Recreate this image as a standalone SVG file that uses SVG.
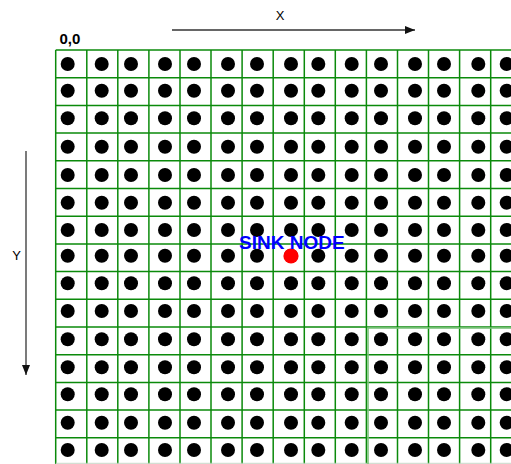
<svg xmlns="http://www.w3.org/2000/svg" xmlns:xlink="http://www.w3.org/1999/xlink" width="511" height="464" viewBox="0 0 511 464">
<style>
.grid{fill:none;stroke:#0b8a0b;stroke-width:1.5}
.block{fill:none;stroke:#7cc47c;stroke-width:1.6}
.dot{fill:#000}
.axis{stroke:#333;stroke-width:1.3;fill:none}
.lbl{font-family:"Liberation Sans",Arial,sans-serif;font-size:13px;fill:#000}
</style>
<defs>
<marker id="ah" markerWidth="10" markerHeight="8" refX="10" refY="4" orient="auto" markerUnits="userSpaceOnUse">
<path d="M0,0 L10,4 L0,8 Z" fill="#111"/>
</marker>
<g id="row">
<circle class="dot" cx="67.7" cy="0" r="7"/><circle class="dot" cx="101.7" cy="0" r="7"/><circle class="dot" cx="131" cy="0" r="7"/><circle class="dot" cx="165" cy="0" r="7"/><circle class="dot" cx="194" cy="0" r="7"/><circle class="dot" cx="228" cy="0" r="7"/><circle class="dot" cx="257" cy="0" r="7"/><circle class="dot" cx="291" cy="0" r="7"/><circle class="dot" cx="318.3" cy="0" r="7"/><circle class="dot" cx="351.7" cy="0" r="7"/><circle class="dot" cx="381" cy="0" r="7"/><circle class="dot" cx="415" cy="0" r="7"/><circle class="dot" cx="444" cy="0" r="7"/><circle class="dot" cx="478.3" cy="0" r="7"/><circle class="dot" cx="506.7" cy="0" r="7"/>
</g>
</defs>
<rect width="511" height="464" fill="#fff"/>
<g id="grid">
<path class="grid" d="M55.7,50V464 M86.8,50V464 M117.8,50V464 M148.9,50V464 M180,50V464 M211,50V464 M242.1,50V464 M273.2,50V464 M304.3,50V464 M335.3,50V464 M366.4,50V464 M397.5,50V464 M428.5,50V464 M459.6,50V464 M490.7,50V464 M55.7,50H511 M55.7,77.7H511 M55.7,105.4H511 M55.7,133.1H511 M55.7,160.8H511 M55.7,188.5H511 M55.7,216.2H511 M55.7,243.9H511 M55.7,271.6H511 M55.7,299.3H511 M55.7,327H511 M55.7,354.7H511 M55.7,382.4H511 M55.7,410.1H511 M55.7,437.8H511"/>
<path d="M55.7,463.3H511" stroke="#c8d8c8" stroke-width="1" fill="none"/>
<rect class="block" x="368" y="328" width="150" height="140"/>
</g>
<g id="nodes">
<use xlink:href="#row" y="64"/>
<use xlink:href="#row" y="90.7"/>
<use xlink:href="#row" y="118.3"/>
<use xlink:href="#row" y="146.7"/>
<use xlink:href="#row" y="175"/>
<use xlink:href="#row" y="202.7"/>
<use xlink:href="#row" y="230"/>
<use xlink:href="#row" y="255.7"/>
<use xlink:href="#row" y="283.3"/>
<use xlink:href="#row" y="311"/>
<use xlink:href="#row" y="339.3"/>
<use xlink:href="#row" y="367.3"/>
<use xlink:href="#row" y="394.3"/>
<use xlink:href="#row" y="422.7"/>
<use xlink:href="#row" y="450"/>
</g>
<g id="sink-node">
<circle cx="291" cy="256" r="7.6" fill="#f00"/>
<text x="239" y="248.5" font-family="'Liberation Sans',Arial,sans-serif" font-size="19" font-weight="bold" fill="#0000ff">SINK NODE</text>
</g>
<g id="axes">
<line class="axis" x1="172" y1="30" x2="415" y2="30" marker-end="url(#ah)"/>
<line class="axis" x1="26" y1="151" x2="26" y2="375" marker-end="url(#ah)"/>
<text class="lbl" x="280" y="19.5" text-anchor="middle">X</text>
<text class="lbl" x="16.5" y="259.5" text-anchor="middle">Y</text>
<text x="59.5" y="43.5" font-family="'Liberation Sans',Arial,sans-serif" font-size="15" font-weight="bold" fill="#000">0,0</text>
</g>
</svg>
